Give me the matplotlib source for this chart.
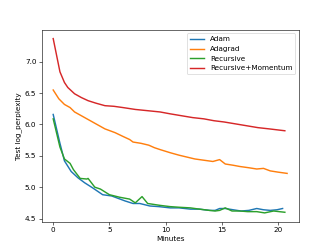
import numpy as np
import matplotlib
matplotlib.use("Agg")
import matplotlib.pyplot as plt

# minutes / test log-perplexity
adam_x = [0.0, 0.6, 1.0, 1.6, 2.2, 2.8, 3.5, 4.4, 5.2, 5.8, 6.4, 7.1, 7.7,
          8.6, 9.4, 10.4, 11.2, 12.2, 13.0, 13.9, 14.4, 14.8, 15.3, 16.0,
          16.7, 17.4, 18.1, 18.7, 19.3, 19.9, 20.4]
adam_y = [6.16, 5.70, 5.42, 5.25, 5.15, 5.07, 4.99, 4.88, 4.86, 4.82, 4.78,
          4.74, 4.74, 4.70, 4.69, 4.67, 4.67, 4.65, 4.65, 4.63, 4.63, 4.66,
          4.66, 4.64, 4.62, 4.63, 4.66, 4.64, 4.63, 4.64, 4.66]

adagrad_x = [0.0, 0.5, 1.0, 1.5, 1.9, 2.6, 3.3, 3.9, 4.6, 5.5, 6.2, 6.8, 7.1,
             7.8, 8.5, 9.0, 9.5, 10.4, 11.2, 11.9, 12.6, 13.4, 14.2, 14.8,
             15.3, 16.0, 16.6, 17.4, 18.1, 18.7, 19.3, 20.0, 20.8]
adagrad_y = [6.55, 6.41, 6.32, 6.27, 6.20, 6.13, 6.06, 6.00, 5.93, 5.87,
             5.81, 5.76, 5.72, 5.70, 5.67, 5.63, 5.60, 5.55, 5.51, 5.48,
             5.45, 5.43, 5.41, 5.44, 5.37, 5.35, 5.33, 5.31, 5.29, 5.30,
             5.26, 5.24, 5.22]

recursive_x = [0.0, 0.6, 1.0, 1.5, 1.8, 2.4, 3.0, 3.1, 3.7, 4.2, 5.0, 5.9,
               6.8, 7.3, 7.9, 8.4, 9.5, 10.4, 11.2, 12.2, 13.0, 13.9, 14.4,
               14.8, 15.3, 15.9, 16.6, 17.3, 18.1, 18.8, 19.6, 20.6]
recursive_y = [6.09, 5.64, 5.45, 5.38, 5.28, 5.14, 5.13, 5.14, 5.00, 4.97,
               4.88, 4.84, 4.81, 4.75, 4.85, 4.74, 4.71, 4.69, 4.68, 4.67,
               4.65, 4.63, 4.62, 4.63, 4.67, 4.62, 4.62, 4.61, 4.61, 4.59,
               4.62, 4.60]

momentum_x = [0.0, 0.6, 1.0, 1.3, 1.9, 2.5, 3.1, 3.8, 4.6, 5.4, 6.2, 7.3,
              8.4, 9.5, 10.4, 11.4, 12.4, 13.4, 14.3, 15.2, 16.2, 17.2,
              18.2, 19.2, 20.6]
momentum_y = [7.37, 6.84, 6.67, 6.59, 6.49, 6.43, 6.38, 6.34, 6.30, 6.29,
              6.27, 6.24, 6.22, 6.20, 6.17, 6.14, 6.11, 6.09, 6.06, 6.04,
              6.01, 5.98, 5.95, 5.93, 5.90]

fig, ax = plt.subplots(figsize=(6.4, 4.8), dpi=332 / 6.4)
lw = 2.0
ax.plot(adam_x, adam_y, lw=lw, label="Adam")
ax.plot(adagrad_x, adagrad_y, lw=lw, label="Adagrad")
ax.plot(recursive_x, recursive_y, lw=lw, label="Recursive")
ax.plot(momentum_x, momentum_y, lw=lw, label="Recursive+Momentum")

ax.set_xlabel("Minutes")
ax.set_ylabel("Test log_perplexity")
ax.set_yticks([4.5, 5.0, 5.5, 6.0, 6.5, 7.0])
ax.legend(loc="upper right")

fig.savefig("out.png", dpi=332 / 6.4)
